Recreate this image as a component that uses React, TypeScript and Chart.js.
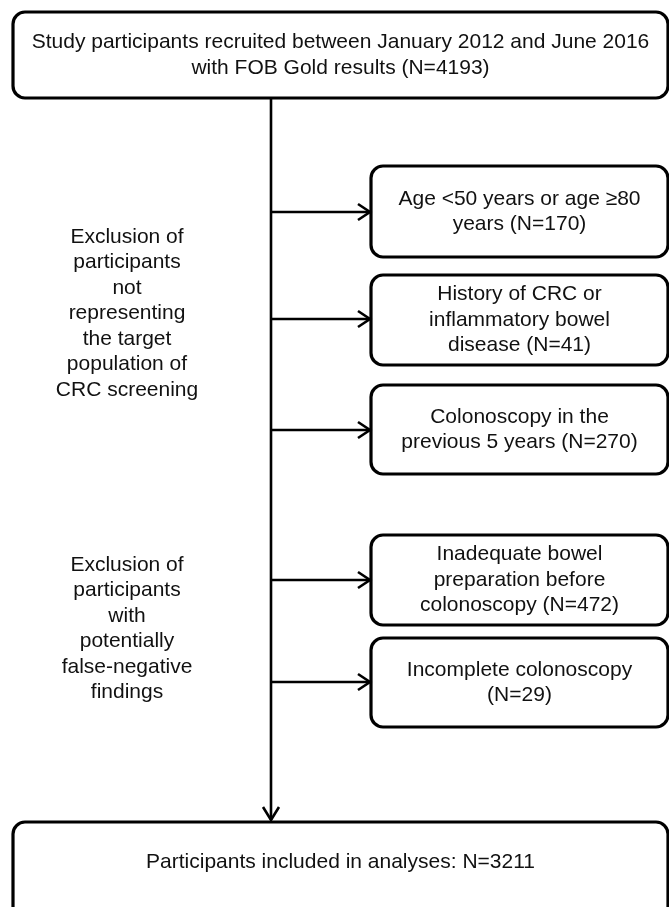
import React, { useEffect, useRef } from "react";
import { Chart, registerables } from "chart.js";

Chart.register(...registerables);

// ---- flowchart content (values) ----
const totalN = 4193;
const includedN = 3211;
const exclusionN = [170, 41, 270, 472, 29];
const topText = [
  "Study participants recruited between January 2012 and June 2016",
  "with FOB Gold results (N=" + totalN + ")",
];
const exclusionText = [
  ["Age <50 years or age \u226580", "years (N=#)"],
  ["History of CRC or", "inflammatory bowel", "disease (N=#)"],
  ["Colonoscopy in the", "previous 5 years (N=#)"],
  ["Inadequate bowel", "preparation before", "colonoscopy (N=#)"],
  ["Incomplete colonoscopy", "(N=#)"],
];
const bottomText = ["Participants included in analyses: N=" + includedN];
const groupText = [
  ["Exclusion of", "participants", "not", "representing", "the target", "population of", "CRC screening"],
  ["Exclusion of", "participants", "with", "potentially", "false-negative", "findings"],
];

// ---- layout coordinates (in the flowchart's own value space, 0..669 x 0..907) ----
const spineX = 271;
const spineTop = 98;
const spineBottom = 820;
const topBox = [13, 12, 668, 98];
const bottomBox = [13, 822, 668, 930];
const exclLeft = 371;
const exclRight = 668;
const exclTop = [166, 275, 385, 535, 638];
const exclBottom = [257, 365, 474, 625, 727];
const arrowY = [212, 319, 430, 580, 682];
const groupCenterX = 127;
const groupFirstY = [237, 565];
const lineGap = 25.5;

const FONT = '21px "Liberation Sans", Arial, sans-serif';

function seg(pts: number[][]) {
  return {
    type: "line" as const,
    data: pts.map(([x, y]) => ({ x, y })),
    borderColor: "#000",
    borderWidth: 2.6,
    pointRadius: 0,
    fill: false,
    tension: 0,
    showLine: true,
    borderCapStyle: "butt" as const,
    borderJoinStyle: "miter" as const,
  };
}

const flowPlugin = {
  id: "flow",
  beforeDatasetsDraw(chart: any) {
    const ctx = chart.ctx;
    const xs = chart.scales.x;
    const ys = chart.scales.y;
    const px = (v: number) => xs.getPixelForValue(v);
    const py = (v: number) => ys.getPixelForValue(v);
    const box = (l: number, t: number, r: number, b: number) => {
      ctx.save();
      ctx.beginPath();
      ctx.roundRect(px(l), py(t), px(r) - px(l), py(b) - py(t), 12);
      ctx.fillStyle = "#fff";
      ctx.fill();
      ctx.lineWidth = 3.2;
      ctx.strokeStyle = "#000";
      ctx.stroke();
      ctx.restore();
    };
    const text = (lines: string[], cx: number, cy: number) => {
      ctx.save();
      ctx.font = FONT;
      ctx.fillStyle = "#111";
      ctx.textAlign = "center";
      ctx.textBaseline = "middle";
      const start = cy - ((lines.length - 1) * lineGap) / 2;
      lines.forEach((s, i) => ctx.fillText(s, px(cx), py(start + i * lineGap)));
      ctx.restore();
    };
    box(topBox[0], topBox[1], topBox[2], topBox[3]);
    text(topText, (topBox[0] + topBox[2]) / 2, (topBox[1] + topBox[3]) / 2);
    box(bottomBox[0], bottomBox[1], bottomBox[2], bottomBox[3]);
    text(bottomText, (bottomBox[0] + bottomBox[2]) / 2, 862);
    exclusionText.forEach((lines, i) => {
      box(exclLeft, exclTop[i], exclRight, exclBottom[i]);
      const ls = lines.map((s) => s.replace("#", String(exclusionN[i])));
      text(ls, (exclLeft + exclRight) / 2, (exclTop[i] + exclBottom[i]) / 2);
    });
    groupText.forEach((lines, g) => {
      const cy = groupFirstY[g] + ((lines.length - 1) * lineGap) / 2;
      text(lines, groupCenterX, cy);
    });
  },
};

export default function App() {
  const ref = useRef<HTMLCanvasElement>(null);
  useEffect(() => {
    document.body.style.margin = "0";
    const datasets: any[] = [];
    datasets.push(seg([[spineX, spineTop], [spineX, spineBottom]]));
    datasets.push(seg([[spineX - 8, spineBottom - 13], [spineX, spineBottom], [spineX + 8, spineBottom - 13]]));
    arrowY.forEach((y) => {
      datasets.push(seg([[spineX, y], [exclLeft - 1, y]]));
      datasets.push(seg([[exclLeft - 13, y - 8], [exclLeft - 1, y], [exclLeft - 13, y + 8]]));
    });
    const chart = new Chart(ref.current as HTMLCanvasElement, {
      type: "scatter",
      data: { datasets },
      options: {
        animation: false,
        responsive: false,
        maintainAspectRatio: false,
        layout: { padding: 0 },
        plugins: { legend: { display: false }, tooltip: { enabled: false } },
        scales: {
          x: { type: "linear", min: 0, max: 669, display: false },
          y: { type: "linear", min: 0, max: 907, reverse: true, display: false },
        },
      },
      plugins: [flowPlugin],
    });
    return () => chart.destroy();
  }, []);
  return (
    <div style={{ width: 669, height: 907, background: "#fff" }}>
      <canvas ref={ref} width={669} height={907} style={{ display: "block" }} />
    </div>
  );
}
